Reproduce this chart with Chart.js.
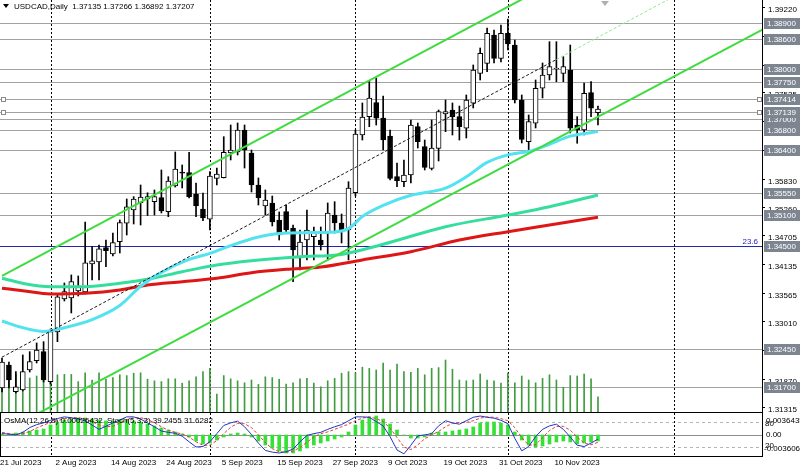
<!DOCTYPE html>
<html>
<head>
<meta charset="utf-8">
<title>USDCAD Daily</title>
<script src="https://cdn.jsdelivr.net/npm/chart.js@4.4.1/dist/chart.umd.min.js"></script>
<style>
  html, body { margin: 0; padding: 0; background: #fff; }
  #wrap { position: relative; width: 800px; height: 474px; overflow: hidden; }
  canvas { position: absolute; left: 0; }
  #mainChart { top: 0; }
  #oscChart { top: 412px; }
</style>
</head>
<body>
<div id="wrap">
  <canvas id="mainChart" width="800" height="412"></canvas>
  <canvas id="oscChart" width="800" height="62"></canvas>
</div>
<script>
// bar index 0 = 21 Jul 2023, daily bars
const tickDays = [0, 8, 16, 24, 32, 40, 48, 56, 64, 72, 80];
const tickLabels = ['21 Jul 2023', '2 Aug 2023', '14 Aug 2023', '24 Aug 2023', '5 Sep 2023', '15 Sep 2023',
  '27 Sep 2023', '9 Oct 2023', '19 Oct 2023', '31 Oct 2023', '10 Nov 2023'];
const monthStarts = [7, 30, 51, 73, 97];

const opens = [1.31686,1.32142,1.31613,1.31647,1.32043,1.32227,1.32405,1.31811,1.32795,1.33448,
  1.33468,1.33606,1.33587,1.34141,1.34180,1.34463,1.34338,1.34582,1.34946,1.35209,
  1.35354,1.35427,1.35374,1.35453,1.35176,1.35684,1.35961,1.35947,1.35526,1.35229,
  1.35025,1.35836,1.35848,1.36337,1.36357,1.36792,1.36337,1.35704,1.35288,1.35347,
  1.35011,1.35176,1.34853,1.34259,1.34615,1.34681,1.34615,1.34754,1.35110,1.34952,
  1.34813,1.35551,1.36693,1.37056,1.37333,1.37030,1.36674,1.35868,1.35769,1.35902,
  1.36858,1.36462,1.36034,1.36430,1.37109,1.37188,1.37056,1.36826,1.37321,1.37914,
  1.38112,1.38672,1.38211,1.38706,1.38474,1.37386,1.36561,1.36925,1.37618,1.37881,
  1.37999,1.37914,1.37980,1.36891,1.36792,1.37531,1.37135];
const highs = [1.32280,1.32201,1.32009,1.32340,1.32405,1.32577,1.32603,1.32854,1.33527,1.33764,
  1.33923,1.33903,1.34972,1.34483,1.34517,1.34615,1.34754,1.35011,1.35427,1.35473,
  1.35704,1.35550,1.35605,1.36001,1.35868,1.36357,1.36100,1.36351,1.35743,1.35546,
  1.35967,1.36040,1.36660,1.36891,1.36931,1.36891,1.36396,1.35843,1.35605,1.35486,
  1.35170,1.35308,1.34912,1.34813,1.35209,1.34873,1.34873,1.35348,1.35374,1.35130,
  1.35769,1.36792,1.37327,1.37768,1.37821,1.37465,1.36792,1.36139,1.36199,1.36990,
  1.36931,1.36594,1.36990,1.37188,1.37386,1.37327,1.37267,1.37485,1.38079,1.38415,
  1.38811,1.38771,1.38870,1.38989,1.38573,1.37485,1.37089,1.37782,1.38118,1.38540,
  1.38540,1.38243,1.38474,1.37056,1.37722,1.37748,1.37266];
const lows = [1.31607,1.31686,1.31588,1.31627,1.32003,1.32181,1.31805,1.31766,1.32603,1.33408,
  1.33171,1.33507,1.33547,1.33824,1.33824,1.34087,1.34299,1.34358,1.34714,1.34932,
  1.34912,1.35100,1.35110,1.35150,1.35077,1.35664,1.35645,1.35447,1.35077,1.34997,
  1.34813,1.35704,1.35842,1.36199,1.36298,1.36040,1.35565,1.35308,1.35110,1.34893,
  1.34615,1.34774,1.33790,1.34022,1.34220,1.34220,1.34417,1.34220,1.34754,1.34556,
  1.34220,1.35486,1.36594,1.36858,1.36891,1.36396,1.35803,1.35670,1.35670,1.35743,
  1.36436,1.36001,1.36001,1.36179,1.36759,1.36693,1.36594,1.36634,1.37228,1.37782,
  1.37946,1.38118,1.38138,1.38376,1.37327,1.36535,1.36363,1.36832,1.37426,1.37782,
  1.37748,1.37748,1.36733,1.36529,1.36693,1.37056,1.36892];
const closes = [1.32201,1.31845,1.31707,1.32009,1.32207,1.32438,1.31845,1.32801,1.33488,1.33593,
  1.33790,1.33705,1.34161,1.34201,1.34438,1.34404,1.34562,1.34958,1.35274,1.35427,
  1.35466,1.35473,1.35473,1.35189,1.35783,1.36021,1.35940,1.35472,1.35288,1.35051,
  1.35882,1.35922,1.36351,1.36396,1.36792,1.36396,1.35704,1.35447,1.35407,1.34972,
  1.34714,1.34813,1.34417,1.34576,1.34813,1.34780,1.34517,1.35150,1.34952,1.34813,
  1.35645,1.36713,1.37050,1.37426,1.37024,1.36594,1.35836,1.35789,1.35902,1.36891,
  1.36561,1.36054,1.36436,1.37155,1.37155,1.37056,1.36858,1.37386,1.37980,1.38310,
  1.38706,1.38211,1.38706,1.38494,1.37386,1.36608,1.36957,1.37618,1.37881,1.38045,
  1.38020,1.38045,1.36826,1.36792,1.37519,1.37222,1.37207];
// tick volume, thousands
const volumes = [90,83,95,75,85,90,100,100,93,94,
  94,76,98,80,98,82,86,93,91,97,
  98,82,78,76,83,83,72,78,88,101,
  109,45,91,83,78,73,80,69,88,86,
  82,70,73,83,84,72,63,78,84,97,
  101,98,112,109,105,122,105,120,101,99,
  109,93,109,111,130,107,80,78,80,95,
  80,78,72,97,73,90,80,73,84,93,
  80,62,91,90,95,83,38];

// moving averages, read at some bars
const maFastBars = [0,3,6,9,13,17,20,23,27,30,33,37,40,44,48,50,52,55,59,64,67,70,73,76,79,82,86];
const maFast = [1.33012,1.32880,1.32805,1.32880,1.33040,1.33320,1.33700,1.33975,1.34230,1.34350,1.34505,1.34675,
  1.34745,1.34760,1.34775,1.34840,1.35080,1.35300,1.35500,1.35640,1.35865,1.36150,1.36300,1.36370,1.36510,1.36670,1.36760];
const maMidBars = [0,3,7,12,17,21,26,31,36,43,49,55,64,73,79,86];
const maMid = [1.33857,1.33758,1.33691,1.33691,1.33758,1.33838,1.33987,1.34121,1.34206,1.34285,1.34330,1.34530,
  1.34879,1.35110,1.35274,1.35506];
const maSlowBars = [0,3,7,12,17,21,26,31,36,41,46,52,59,66,73,79,86];
const maSlow = [1.33659,1.33612,1.33547,1.33561,1.33626,1.33725,1.33790,1.33857,1.33968,1.34035,1.34080,1.34220,
  1.34384,1.34615,1.34780,1.34912,1.35065];

// channel lines: [bar, price]
const channelUpper = [[0, 1.33905], [78, 1.39595]];
const channelLower = [[0, 1.30805], [110, 1.38799]];
const channelMid = [[0, 1.32296], [80, 1.38187]];
const channelMidExt = [[80, 1.38187], [97, 1.39438]];

const levels = [1.389, 1.386, 1.38, 1.3775, 1.37414, 1.37, 1.368, 1.37139, 1.364, 1.3555, 1.351, 1.345, 1.3245, 1.317];
const fibLevel = 1.345;
const priceTicks = [1.39220, 1.38650, 1.38080, 1.37535, 1.36970, 1.36400, 1.35830, 1.35260, 1.34705,
  1.34135, 1.33565, 1.33010, 1.32440, 1.31870, 1.31315];
const titleOHLC = [1.37135, 1.37266, 1.36892, 1.37207];

// oscillators
const osma = [0.0002,0.0002,0.0004,0.0006,0.0008,0.0010,0.0012,0.0020,0.0026,0.0030,
  0.0032,0.0034,0.0034,0.0032,0.0030,0.0028,0.0028,0.0030,0.0030,0.0028,
  0.0026,0.0022,0.0018,0.0014,0.0010,0.0006,0.0002,-0.0004,-0.0012,-0.0018,
  -0.0016,-0.0010,-0.0004,0.0002,0.0004,0.0002,-0.0004,-0.0012,-0.0020,-0.0026,
  -0.0032,-0.0036,-0.0036,-0.0032,-0.0026,-0.0020,-0.0016,-0.0012,-0.0008,-0.0004,
  0.0006,0.0020,0.0030,0.0036,0.0038,0.0032,0.0022,0.0010,0.0000,-0.0006,
  -0.0006,-0.0004,0.0004,0.0006,0.0006,0.0008,0.0010,0.0012,0.0016,0.0024,
  0.0026,0.0026,0.0024,0.0020,0.0006,-0.0010,-0.0020,-0.0024,-0.0022,-0.0018,
  -0.0014,-0.0012,-0.0014,-0.0018,-0.0016,-0.0014,-0.0012];
const stochMain = [52,51,49,55,66,73,77,83,87,91, 89,86,82,72,62,69,77,84,91,91,
  86,77,68,58,55,53,46,33,21,22, 33,52,71,77,81,68,50,30,13,9,
  7,10,16,33,48,52,55,62,68,73, 82,91,91,90,80,70,45,14,5,25,
  47,49,52,70,82,77,74,82,90,93, 90,88,83,75,41,12,22,45,62,70,
  74,62,44,25,22,30,39.2455];
const stochSignal = [55,52,50,52,57,65,72,78,82,87, 89,89,86,80,72,68,69,77,84,89,
  89,85,77,68,60,55,51,44,33,25, 25,36,52,67,76,75,66,49,31,17,
  10,9,11,20,32,44,52,56,62,68, 74,82,88,91,87,80,65,43,21,15,
  26,40,49,57,68,76,78,78,82,88, 91,90,87,82,66,43,25,26,43,59,
  69,69,60,44,30,26,31.6282];

// ---- helpers ----
const FONT = '8px "Liberation Sans", Arial, sans-serif';
const xMin = -0.2886, xMax = 109.668;
const isUp = i => closes[i] >= opens[i];
const pts = (bars, vals) => bars.map((b, i) => ({x: b, y: vals[i]}));
const pairs = arr => arr.map(p => ({x: p[0], y: p[1]}));

function hline(ctx, x1, x2, y) { ctx.beginPath(); ctx.moveTo(x1, y); ctx.lineTo(x2, y); ctx.stroke(); }
function vline(ctx, x, y1, y2) { ctx.beginPath(); ctx.moveTo(x, y1); ctx.lineTo(x, y2); ctx.stroke(); }

const mainDecor = {
  id: 'mainDecor',
  beforeDatasetsDraw(chart) {
    const {ctx, chartArea: a, scales: {x, y}} = chart;
    ctx.save();
    ctx.lineWidth = 1;
    ctx.strokeStyle = '#a2a2a2';
    levels.forEach(v => {
      if (v === fibLevel) return;
      hline(ctx, a.left, a.right, Math.round(y.getPixelForValue(v)) + 0.5);
    });
    ctx.strokeStyle = '#2626b4';
    hline(ctx, a.left, a.right, Math.round(y.getPixelForValue(fibLevel)) + 0.5);
    ctx.strokeStyle = '#000';
    ctx.setLineDash([2, 2]);
    monthStarts.forEach(m => vline(ctx, Math.round(x.getPixelForValue(m)) + 0.5, a.top, a.bottom));
    ctx.restore();
  },
  afterDatasetsDraw(chart) {
    const {ctx, chartArea: a, scales: {y}} = chart;
    ctx.save();
    ctx.lineWidth = 1;
    ctx.strokeStyle = '#000';
    vline(ctx, a.right + 0.5, 0, chart.height);
    ctx.font = FONT;
    ctx.textBaseline = 'middle';
    ctx.textAlign = 'left';
    ctx.fillStyle = '#000';
    priceTicks.forEach(v => {
      const py = Math.round(y.getPixelForValue(v)) + 0.5;
      hline(ctx, a.right, a.right + 3, py);
      ctx.fillText(v.toFixed(5), a.right + 6, py + 2);
    });
    levels.forEach(v => {
      const py = Math.round(y.getPixelForValue(v));
      ctx.fillStyle = '#7d8690';
      ctx.fillRect(a.right + 2, py - 5, 38, 11);
      ctx.fillStyle = '#fff';
      ctx.fillText(v.toFixed(5), a.right + 5, py + 1);
    });
    // small markers on two price lines
    ctx.strokeStyle = '#8a8a8a';
    ctx.fillStyle = '#fff';
    [1.37414, 1.37139].forEach(v => {
      const py = Math.round(y.getPixelForValue(v));
      [1, a.right - 5].forEach(px => { ctx.fillRect(px, py - 2, 4, 4); ctx.strokeRect(px + 0.5, py - 1.5, 4, 4); });
    });
    // fibo label
    ctx.fillStyle = '#2626b4';
    ctx.textAlign = 'right';
    ctx.textBaseline = 'alphabetic';
    ctx.fillText('23.6', a.right - 4, y.getPixelForValue(fibLevel) - 2);
    // title
    ctx.fillStyle = '#000';
    ctx.beginPath(); ctx.moveTo(3, 4); ctx.lineTo(9, 4); ctx.lineTo(6, 8); ctx.closePath(); ctx.fill();
    ctx.textAlign = 'left';
    ctx.textBaseline = 'middle';
    ctx.fillText('USDCAD,Daily  ' + titleOHLC.map(v => v.toFixed(5)).join(' '), 14, 7);
    ctx.fillStyle = '#b0b0b0';
    ctx.beginPath(); ctx.moveTo(601, 1); ctx.lineTo(609, 1); ctx.lineTo(605, 6); ctx.closePath(); ctx.fill();
    ctx.restore();
  }
};

new Chart(document.getElementById('mainChart'), {
  type: 'bar',
  data: {
    datasets: [
      { type: 'line', data: pairs(channelUpper), borderColor: '#3fdc3f', borderWidth: 2, pointRadius: 0, order: 0 },
      { type: 'line', data: pairs(channelLower), borderColor: '#3fdc3f', borderWidth: 2, pointRadius: 0, order: 0 },
      { type: 'line', data: pairs(channelMid), borderColor: '#1a1a1a', borderWidth: 1, borderDash: [3, 2], pointRadius: 0, order: 0 },
      { type: 'line', data: pairs(channelMidExt), borderColor: '#8fe88f', borderWidth: 1, borderDash: [3, 2], pointRadius: 0, order: 0 },
      { type: 'line', data: pts(maFastBars, maFast), borderColor: '#52e2f0', borderWidth: 3, pointRadius: 0, cubicInterpolationMode: 'monotone', order: 1 },
      { type: 'line', data: pts(maMidBars, maMid), borderColor: '#36de9e', borderWidth: 3, pointRadius: 0, cubicInterpolationMode: 'monotone', order: 1 },
      { type: 'line', data: pts(maSlowBars, maSlow), borderColor: '#de1616', borderWidth: 3, pointRadius: 0, cubicInterpolationMode: 'monotone', order: 1 },
      {
        data: opens.map((o, i) => ({x: i, y: [o, closes[i]]})),
        backgroundColor: c => isUp(c.dataIndex) ? '#fff' : '#000',
        borderColor: '#000', borderWidth: 1, borderSkipped: false,
        barThickness: 5, minBarLength: 1, grouped: false, order: 2
      },
      {
        data: highs.map((h, i) => ({x: i, y: [lows[i], h]})),
        backgroundColor: '#000', barThickness: 1, grouped: false, order: 3
      },
      {
        data: volumes.map((v, i) => ({x: i, y: v})),
        backgroundColor: '#3f9c3f', barThickness: 1, grouped: false, yAxisID: 'yv', order: 4
      }
    ]
  },
  options: {
    responsive: false,
    animation: false,
    devicePixelRatio: 1,
    events: [],
    layout: { padding: { left: 0, right: 38, top: 0, bottom: 0 } },
    plugins: { legend: { display: false }, tooltip: { enabled: false } },
    scales: {
      x: { type: 'linear', min: xMin, max: xMax, offset: false, display: false },
      y: { min: 1.31211, max: 1.39365, display: false },
      yv: { min: 0, max: 1030, display: false }
    }
  },
  plugins: [mainDecor]
});

const oscDecor = {
  id: 'oscDecor',
  beforeDatasetsDraw(chart) {
    const {ctx, chartArea: a, scales: {x, ys, yo}} = chart;
    ctx.save();
    ctx.lineWidth = 1;
    ctx.strokeStyle = '#b4b4b4';
    ctx.setLineDash([3, 3]);
    [80, 20].forEach(v => hline(ctx, a.left, a.right, Math.round(ys.getPixelForValue(v)) + 0.5));
    ctx.setLineDash([]);
    ctx.strokeStyle = '#8e8e8e';
    hline(ctx, a.left, a.right, Math.round(yo.getPixelForValue(0)) + 0.5);
    ctx.strokeStyle = '#000';
    ctx.setLineDash([2, 2]);
    monthStarts.forEach(m => vline(ctx, Math.round(x.getPixelForValue(m)) + 0.5, a.top, a.bottom));
    ctx.restore();
  },
  afterDatasetsDraw(chart) {
    const {ctx, chartArea: a, scales: {x}} = chart;
    ctx.save();
    ctx.lineWidth = 1;
    ctx.strokeStyle = '#000';
    ctx.strokeRect(0.5, a.top - 0.5, a.right, a.bottom - a.top + 1);
    ctx.font = FONT;
    ctx.fillStyle = '#000';
    ctx.textBaseline = 'middle';
    ctx.textAlign = 'left';
    ctx.fillText('OsMA(12,26,9) 0.00026432', 4, 9);
    ctx.fillText('Stoch(5,3,3) 39.2455 31.6282', 107, 9);
    // right scale labels
    ctx.fillText('80', a.right + 3, 12);
    ctx.fillText('0.0036435', a.right + 4, 9);
    ctx.fillText('0.00', a.right + 4, 23);
    ctx.fillText('20', a.right + 3, 34);
    ctx.fillText('-0.003606', a.right + 2, 37);
    tickDays.forEach((d, k) => ctx.fillText(tickLabels[k], x.getPixelForValue(d) - 2, 51));
    ctx.restore();
  }
};

new Chart(document.getElementById('oscChart'), {
  type: 'bar',
  data: {
    datasets: [
      { type: 'line', data: stochMain.map((v, i) => ({x: i, y: v})), borderColor: '#2433c4', borderWidth: 1, pointRadius: 0, yAxisID: 'ys', order: 0 },
      { type: 'line', data: stochSignal.map((v, i) => ({x: i, y: v})), borderColor: '#e23c3c', borderWidth: 1, borderDash: [3, 2], pointRadius: 0, yAxisID: 'ys', order: 1 },
      { data: osma.map((v, i) => ({x: i, y: v})), backgroundColor: '#36e036', barThickness: 3, grouped: false, yAxisID: 'yo', order: 2 }
    ]
  },
  options: {
    responsive: false,
    animation: false,
    devicePixelRatio: 1,
    events: [],
    layout: { padding: { left: 0, right: 38, top: 1, bottom: 18 } },
    plugins: { legend: { display: false }, tooltip: { enabled: false } },
    scales: {
      x: { type: 'linear', min: xMin, max: xMax, offset: false, display: false },
      ys: { min: 0, max: 100, display: false },
      yo: { min: -0.0042, max: 0.0044, display: false }
    }
  },
  plugins: [oscDecor]
});
</script>
</body>
</html>
